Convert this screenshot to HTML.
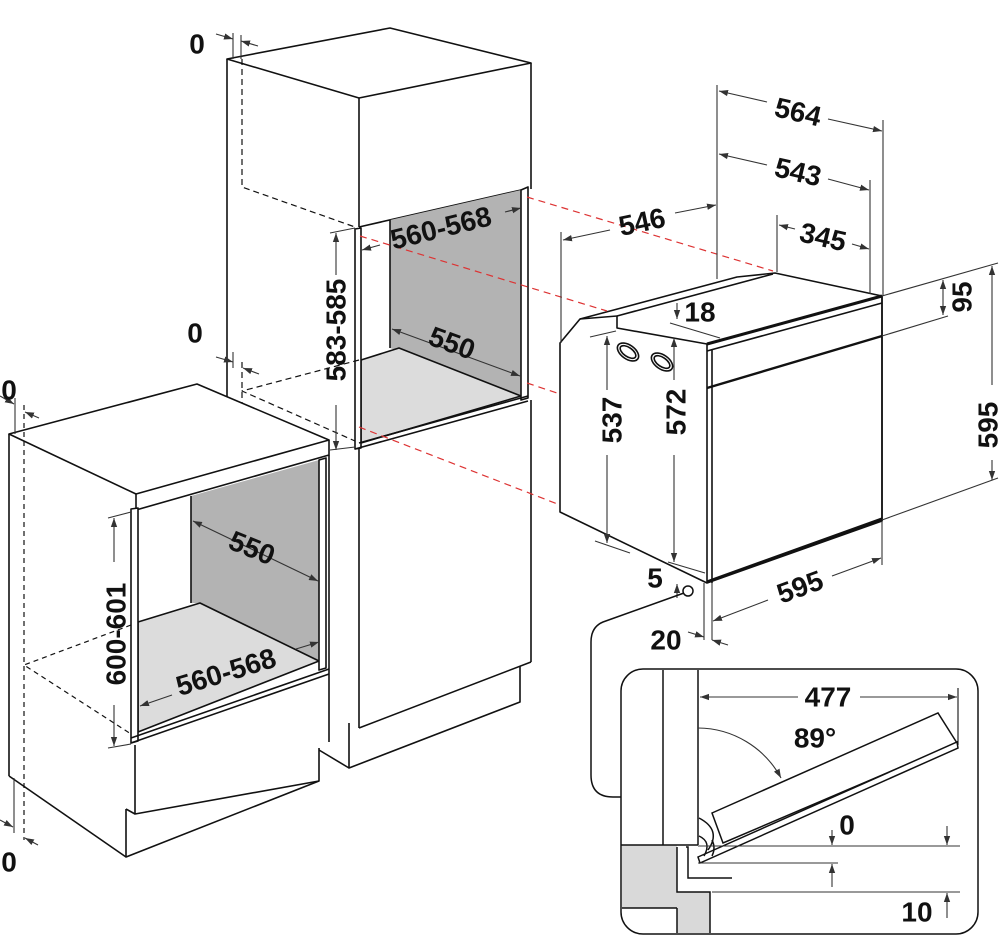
<!DOCTYPE html>
<html><head><meta charset="utf-8"><style>
html,body{margin:0;padding:0;background:#fff;}
svg{display:block;}
text{font-family:"Liberation Sans",sans-serif;font-weight:bold;font-size:28px;fill:#111;text-anchor:middle;dominant-baseline:central;}
</style></head><body>
<svg width="1000" height="948" viewBox="0 0 1000 948" xmlns="http://www.w3.org/2000/svg">
<defs>
<marker id="a" viewBox="0 0 10 10" refX="10" refY="5" markerWidth="9" markerHeight="9" orient="auto-start-reverse" markerUnits="userSpaceOnUse"><path d="M0,1.5 L10,5 L0,8.5 z" fill="#333"/></marker>
</defs>
<g fill="none" stroke="#111" stroke-width="1.6" stroke-linejoin="round">

<!-- ===== TALL CABINET ===== -->
<polygon points="227,59 390,28 531,63 359,98" fill="#fff"/>
<line x1="227" y1="59" x2="227" y2="410"/>
<line x1="359" y1="98" x2="359" y2="227"/>
<line x1="531" y1="63" x2="531" y2="189"/>
<line x1="359" y1="227" x2="521" y2="190"/>
<polygon points="390,220 521,190 521,396 390,348" fill="#b3b3b3" stroke="none"/>
<polygon points="361,360 399,348 521,396 361,443" fill="#dcdcdc" stroke="#111"/>
<line x1="390" y1="220" x2="390" y2="348"/>
<polygon points="355,229 361,228 361,448 355,449" fill="#fff"/>
<polygon points="521,190 528,187 528,398 521,400" fill="#fff"/>
<line x1="359" y1="443" x2="528" y2="396"/>
<line x1="355" y1="449" x2="528" y2="401"/>
<!-- lower tall -->
<line x1="359" y1="449" x2="359" y2="728"/>
<line x1="531" y1="400" x2="531" y2="662"/>
<line x1="359" y1="728" x2="531" y2="662"/>
<polyline points="349,723 349,768 520,702 520,666"/>
<line x1="319" y1="750" x2="349" y2="768"/>
<g stroke-dasharray="6,4" stroke-width="1.2">
<polyline points="242,59 242,187 355,227"/>
<polyline points="359,360 242,391 355,441"/>
<line x1="242" y1="362" x2="242" y2="410"/>
</g>

<!-- ===== LOWER-LEFT CABINET ===== -->
<polygon points="9,434 197,384 329,440 136,494" fill="#fff"/>
<polyline points="136,494 136,510 329,455 329,440"/>
<line x1="9" y1="434" x2="9" y2="776"/>
<line x1="9" y1="776" x2="126" y2="857"/>
<polygon points="191,496 319,460 319,661 200,603 191,603" fill="#b3b3b3" stroke="none"/>
<polygon points="138,622 200,603 319,661 138,732" fill="#dcdcdc"/>
<line x1="191" y1="496" x2="191" y2="603"/>
<polygon points="131,509 138,508 138,741 131,743" fill="#fff"/>
<polygon points="319,460 326,458 326,668 319,670" fill="#fff"/>
<line x1="329" y1="455" x2="329" y2="742"/>
<line x1="131" y1="738" x2="329" y2="669"/>
<line x1="131" y1="743" x2="329" y2="674"/>
<polyline points="135,745 135,814 319,781 319,748"/>
<polyline points="126,809 126,857 319,781"/>
<line x1="126" y1="809" x2="135" y2="814"/>
<g stroke-dasharray="5,4" stroke-width="1.2">
<line x1="24" y1="405" x2="24" y2="840"/>
<polyline points="131,625 24,665 131,734"/>
</g>

<!-- ===== OVEN ===== -->
<polygon points="560,343 580,319 737,277 775,273 882,296 882,521 707,583 560,512" fill="#fff"/>
<line x1="580" y1="319" x2="617" y2="316"/>
<line x1="617" y1="316" x2="773" y2="274"/>
<polyline points="617,316 617,328 707,344"/>
<line x1="707" y1="344" x2="707" y2="583"/>
<line x1="882" y1="296" x2="882" y2="521"/>
<line x1="707" y1="344" x2="882" y2="296" stroke-width="3"/>
<line x1="707" y1="351" x2="882" y2="303"/>
<line x1="707" y1="388" x2="882" y2="336" stroke-width="2.4"/>
<line x1="707" y1="582" x2="882" y2="519" stroke-width="3.2"/>
<line x1="712" y1="350" x2="712" y2="583"/>
<ellipse cx="628" cy="352" rx="12" ry="7" transform="rotate(35 628 352)"/>
<ellipse cx="628" cy="352" rx="9" ry="4.5" transform="rotate(35 628 352)"/>
<ellipse cx="662" cy="362" rx="12" ry="7" transform="rotate(35 662 362)"/>
<ellipse cx="662" cy="362" rx="9" ry="4.5" transform="rotate(35 662 362)"/>
</g>

<g stroke="#d33" stroke-width="1.2" stroke-dasharray="7,5" fill="none">
<line x1="527" y1="197" x2="773" y2="271"/>
<line x1="360" y1="236" x2="607" y2="311"/>
<line x1="527" y1="383" x2="560" y2="394"/>
<line x1="359" y1="427" x2="560" y2="505"/>
</g>

<g stroke="#333" stroke-width="1.1" fill="none">
<line x1="233" y1="33" x2="233" y2="59"/><line x1="241" y1="35" x2="241" y2="59"/>
<line x1="216" y1="34" x2="233" y2="39" marker-end="url(#a)"/>
<line x1="258" y1="46" x2="241" y2="41" marker-end="url(#a)"/>
<line x1="233" y1="352" x2="233" y2="368"/>
<line x1="216" y1="357" x2="233" y2="362" marker-end="url(#a)"/>
<line x1="259" y1="374" x2="243" y2="368" marker-end="url(#a)"/>
<line x1="336" y1="233" x2="336" y2="275" marker-start="url(#a)"/>
<line x1="336" y1="405" x2="336" y2="450" marker-end="url(#a)"/>
<line x1="330" y1="233" x2="355" y2="228"/><line x1="330" y1="450" x2="355" y2="447"/>
<line x1="380" y1="245" x2="362" y2="250" marker-end="url(#a)"/>
<line x1="505" y1="212" x2="521" y2="208" marker-end="url(#a)"/>
<line x1="392" y1="329" x2="520" y2="376" marker-start="url(#a)" marker-end="url(#a)"/>
<line x1="15" y1="398" x2="15" y2="434"/>
<line x1="0" y1="396" x2="14" y2="404" marker-end="url(#a)"/>
<line x1="39" y1="418" x2="25" y2="412" marker-end="url(#a)"/>
<line x1="14" y1="778" x2="14" y2="833"/>
<line x1="0" y1="820" x2="13" y2="827" marker-end="url(#a)"/>
<line x1="38" y1="845" x2="25" y2="838" marker-end="url(#a)"/>
<line x1="114" y1="518" x2="114" y2="562" marker-start="url(#a)"/>
<line x1="114" y1="705" x2="114" y2="746" marker-end="url(#a)"/>
<line x1="108" y1="518" x2="131" y2="512"/><line x1="108" y1="748" x2="131" y2="744"/>
<line x1="193" y1="521" x2="318" y2="581" marker-start="url(#a)" marker-end="url(#a)"/>
<line x1="172" y1="695" x2="140" y2="706" marker-end="url(#a)"/>
<line x1="296" y1="649" x2="319" y2="642" marker-end="url(#a)"/>

<line x1="717" y1="85" x2="717" y2="279"/>
<line x1="883" y1="120" x2="883" y2="296"/>
<line x1="870" y1="180" x2="870" y2="294"/>
<line x1="777" y1="215" x2="777" y2="272"/>
<line x1="561" y1="232" x2="561" y2="343"/>
<line x1="719" y1="91" x2="767" y2="102" marker-start="url(#a)"/>
<line x1="828" y1="119" x2="882" y2="131" marker-end="url(#a)"/>
<line x1="719" y1="154" x2="767" y2="165" marker-start="url(#a)"/>
<line x1="828" y1="179" x2="869" y2="190" marker-end="url(#a)"/>
<line x1="779" y1="225" x2="795" y2="229" marker-start="url(#a)"/>
<line x1="852" y1="244" x2="869" y2="249" marker-end="url(#a)"/>
<line x1="563" y1="240" x2="610" y2="230" marker-start="url(#a)"/>
<line x1="675" y1="213" x2="716" y2="205" marker-end="url(#a)"/>
<line x1="677" y1="303" x2="677" y2="319" marker-end="url(#a)"/>
<line x1="670" y1="323" x2="720" y2="338"/>
<line x1="590" y1="337" x2="616" y2="331"/><line x1="595" y1="541" x2="630" y2="553"/>
<line x1="607" y1="336" x2="607" y2="390" marker-start="url(#a)"/>
<line x1="607" y1="455" x2="607" y2="543" marker-end="url(#a)"/>
<line x1="674" y1="338" x2="674" y2="380" marker-start="url(#a)"/>
<line x1="674" y1="455" x2="674" y2="562" marker-end="url(#a)"/>
<line x1="668" y1="562" x2="705" y2="573"/>
<line x1="882" y1="296" x2="998" y2="263"/>
<line x1="882" y1="336" x2="948" y2="316"/>
<line x1="882" y1="520" x2="998" y2="478"/>
<line x1="943" y1="280" x2="943" y2="315" marker-start="url(#a)" marker-end="url(#a)"/>
<line x1="992" y1="266" x2="992" y2="385" marker-start="url(#a)"/>
<line x1="992" y1="460" x2="992" y2="480" marker-end="url(#a)"/>
<line x1="882" y1="521" x2="882" y2="565"/>
<line x1="712" y1="583" x2="712" y2="640"/>
<line x1="704" y1="583" x2="704" y2="640"/>
<line x1="713" y1="621" x2="768" y2="600" marker-start="url(#a)"/>
<line x1="832" y1="576" x2="881" y2="558" marker-end="url(#a)"/>
<line x1="677" y1="598" x2="677" y2="584" marker-end="url(#a)"/>
<line x1="688" y1="632" x2="704" y2="637" marker-end="url(#a)"/>
<line x1="728" y1="645" x2="712" y2="640" marker-end="url(#a)"/>
</g>

<g fill="none" stroke="#111" stroke-width="1.5">
<circle cx="688" cy="591" r="5" fill="#fff"/>
<path d="M684,593 L603,622 Q591,627 591,642 L591,775 Q591,797 613,797 L621,797"/>
<rect x="621" y="669" width="357" height="265" rx="22" fill="#fff"/>
</g>
<g stroke="#111" stroke-width="1.5" fill="none">
<polygon points="622,845 677,845 677,892 710,892 710,933 677,933 677,908 622,908" fill="#d9d9d9" stroke="none"/>
<polyline points="677,847 677,892 710,892 710,933"/>
<line x1="677" y1="908" x2="677" y2="933"/>
<line x1="622" y1="908" x2="677" y2="908"/>
<line x1="663" y1="670" x2="663" y2="845"/>
<line x1="698" y1="670" x2="698" y2="845"/>
<line x1="621" y1="845" x2="698" y2="845"/>
<polyline points="686,847 688,847 688,878 732,878"/>
<polygon points="712,813 938,713 957,743 723,843" fill="#fff"/>
<polygon points="698,857 957,742 958,748 700,863" fill="#fff"/>
<path d="M699,818 Q722,830 708,850"/>
<path d="M699,836 Q712,842 704,856"/>
<path d="M712,840 Q716,848 712,856"/>
<line x1="958" y1="688" x2="958" y2="745" stroke-width="1.1"/>
<g stroke-width="1.1" stroke="#333">
<line x1="700" y1="697" x2="798" y2="697" marker-start="url(#a)"/>
<line x1="860" y1="697" x2="957" y2="697" marker-end="url(#a)"/>
<path d="M698,728 A95,95 0 0 1 781,778" marker-end="url(#a)"/>
<line x1="698" y1="846" x2="960" y2="846"/>
<line x1="698" y1="863" x2="838" y2="863"/>
<line x1="712" y1="892" x2="960" y2="892"/>
<line x1="832" y1="830" x2="832" y2="845" marker-end="url(#a)"/>
<line x1="947" y1="826" x2="947" y2="845" marker-end="url(#a)"/>
<line x1="832" y1="887" x2="832" y2="864" marker-end="url(#a)"/>
<line x1="947" y1="918" x2="947" y2="893" marker-end="url(#a)"/>
</g>
</g>

<text x="197" y="44">0</text>
<text x="195" y="333">0</text>
<text x="9" y="390">0</text>
<text x="9" y="862">0</text>
<text x="336" y="330" transform="rotate(-90 336 330)">583-585</text>
<text x="441" y="228" transform="rotate(-14 441 228)">560-568</text>
<text x="452" y="343" transform="rotate(20 452 343)">550</text>
<text x="116" y="634" transform="rotate(-90 116 634)">600-601</text>
<text x="252" y="548" transform="rotate(22 252 548)">550</text>
<text x="226" y="672" transform="rotate(-17 226 672)">560-568</text>
<text x="798" y="112" transform="rotate(13 798 112)">564</text>
<text x="798" y="172" transform="rotate(13 798 172)">543</text>
<text x="823" y="237" transform="rotate(13 823 237)">345</text>
<text x="642" y="222" transform="rotate(-12 642 222)">546</text>
<text x="700" y="312">18</text>
<text x="962" y="297" transform="rotate(-90 962 297)">95</text>
<text x="612" y="420" transform="rotate(-90 612 420)">537</text>
<text x="676" y="412" transform="rotate(-90 676 412)">572</text>
<text x="988" y="425" transform="rotate(-90 988 425)">595</text>
<text x="800" y="587" transform="rotate(-20 800 587)">595</text>
<text x="655" y="578">5</text>
<text x="666" y="640">20</text>
<text x="828" y="697">477</text>
<text x="815" y="738">89°</text>
<text x="847" y="825">0</text>
<text x="917" y="912">10</text>
</svg>
</body></html>
